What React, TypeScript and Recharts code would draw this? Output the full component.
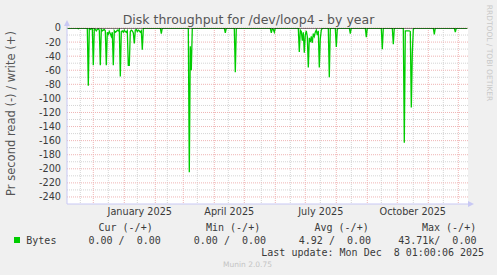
import { LineChart, Line, XAxis, YAxis, CartesianGrid } from "recharts";

// day 0 = 1 Dec 2024, one point per day (yearly munin view)
const DAYS = [
  -26, -16, -15, -14,
  -6, -5, -4, -3, -2, -1, 0, 1, 2, 3, 4, 5, 6, 7, 8, 9, 10, 11, 12, 13, 14, 15, 16, 17, 18, 19, 20,
  21, 22, 23, 24, 25, 26, 27, 28, 29, 30, 31, 32, 33, 34, 35, 36, 37, 38, 39, 40, 41, 42, 43, 44,
  45, 46, 47, 48, 49, 50, 51,
  67, 68, 69,
  95, 96, 97, 98, 99,
  131, 132, 133,
  141, 142, 143,
  177, 178, 179, 180, 181, 182,
  205, 206, 207, 208, 209, 210, 211, 212, 213, 214, 215, 216, 217, 218, 219, 220, 221, 222, 223,
  224, 225, 226, 227, 228, 229,
  235, 236, 237,
  242, 243, 244, 245,
  256, 257, 258,
  272, 273, 274,
  288, 289, 290,
  299, 300, 301,
  310, 311, 312, 313, 314, 315, 316, 317, 318, 319, 320, 321,
  340, 341, 342,
  361, 362, 363,
  374,
];

const READ = [
  0, 0, -1, 0,
  0, -82, 0, -2, -1, -1, -53, -1, -2, -4, -2, -1, -3, -53, -2, -4, -3, -2, -4, -53, -6, -9, -5, -8, -12, -6, -53,
  -4, -6, -5, -3, -4, -2, -69, -5, -4, -6, -3, -5, -6, -4, -53, -53, -5, -3, -4, -7, -22, -3, -2, -5,
  -3, -4, -6, -4, -31, -1, 0,
  0, -8, 0,
  0, -205, -26, -60, 0,
  0, -7, 0,
  0, -63, 0,
  0, -7, -1, -2, -6, 0,
  0, -34, -3, -5, -18, -6, -35, -10, -4, -12, -56, -14, -20, -12, -21, -8, -12, -6, -3,
  -10, -4, -56, -15, -3, 0,
  0, -70, 0,
  0, -27, -2, 0,
  0, -8, 0,
  0, -13, 0,
  0, -30, 0,
  0, -23, 0,
  0, -163, -4, -4, -4, -4, -4, -5, -113, -36, -2, 0,
  0, -9, 0,
  0, -6, 0,
  0,
];

// write side is flat zero all year (drawn as the black rule at 0)
const WRITE_DAYS = [-26, 374];
const WRITE = [0, 0];

const MONTH_STARTS = [0, 31, 62, 90, 121, 151, 182, 212, 243, 274, 304, 335, 365];
const MID_MONTH = [-13, 15, 44, 74, 104, 135, 168, 197, 227, 258, 288, 320, 350];
const LABEL_DAYS = [46.5, 136, 227.5, 319.5];
const LABELS = ["January 2025", "April 2025", "July 2025", "October 2025"];
const Y_TICKS = [0, -20, -40, -60, -80, -100, -120, -140, -160, -180, -200, -220, -240];
const Y_MINOR = [-10, -30, -50, -70, -90, -110, -130, -150, -170, -190, -210, -230];

const LEGEND_HEAD = ["Cur (-/+)", "Min (-/+)", "Avg (-/+)", "Max (-/+)"];
const LEGEND_VALUES = ["0.00 /  0.00", "0.00 /  0.00", "4.92 /  0.00", "43.71k/  0.00"];

const data = DAYS.map((d, i) => {
  const w = WRITE_DAYS.indexOf(d);
  return { day: d, read: READ[i], write: w >= 0 ? WRITE[w] : null };
});

const AXIS = "#c8c8f4";
const TEXT = "#3a3a3a";
const mono = "'DejaVu Sans Mono', monospace";
const sans = "'DejaVu Sans', sans-serif";

export default function App() {
  const headX = [98.5, 206, 314.5, 422];
  const valX = [88.5, 193.8, 298.8, 398.2];
  return (
    <div style={{ position: "absolute", left: 0, top: 0, width: 497, height: 275, background: "#f0f0f0" }}>
      <LineChart width={497} height={275} data={data} margin={{ top: 28, right: 29, bottom: 51, left: 27 }}>
        <CartesianGrid
          horizontalValues={Y_MINOR}
          verticalValues={MID_MONTH}
          stroke="#d4d4d4"
          strokeDasharray="1 1"
          fill="#ffffff"
          fillOpacity={1}
        />
        <CartesianGrid
          horizontalValues={Y_TICKS}
          verticalValues={MONTH_STARTS}
          stroke="#efb4b4"
          strokeDasharray="1 1"
        />
        <XAxis
          type="number"
          dataKey="day"
          domain={[-26.3, 374.7]}
          allowDataOverflow
          ticks={LABEL_DAYS}
          interval={0}
          tickFormatter={(v: number) => LABELS[LABEL_DAYS.indexOf(v)] ?? ""}
          tickLine={false}
          tickSize={0}
          tickMargin={4}
          height={20}
          axisLine={{ stroke: AXIS }}
          tick={{ fill: TEXT, fontSize: 9.7, fontFamily: sans }}
        />
        <YAxis
          type="number"
          domain={[-250, 0]}
          allowDataOverflow
          ticks={Y_TICKS}
          interval={0}
          width={40}
          tickLine={false}
          tickSize={0}
          tickMargin={6}
          axisLine={{ stroke: AXIS }}
          tick={{ fill: TEXT, fontSize: 9.7, fontFamily: sans }}
        />
        <Line
          type="linear"
          dataKey="read"
          stroke="#00cc00"
          strokeWidth={1.3}
          dot={false}
          isAnimationActive={false}
        />
        <Line
          type="linear"
          dataKey="write"
          stroke="#000000"
          strokeWidth={1.2}
          dot={false}
          connectNulls
          isAnimationActive={false}
        />
      </LineChart>
      <svg
        width={497}
        height={275}
        style={{ position: "absolute", left: 0, top: 0, pointerEvents: "none" }}
      >
        <text x={248.5} y={23.5} textAnchor="middle" fontSize={12.5} fontFamily={sans} fill="#555">
          Disk throughput for /dev/loop4 - by year
        </text>
        <text
          x={11}
          y={113.5}
          transform="rotate(-90 11 113.5)"
          textAnchor="middle"
          dominantBaseline="central"
          fontSize={11.5}
          fontFamily={sans}
          fill="#555"
        >
          Pr second read (-) / write (+)
        </text>
        <text
          x={489}
          y={53}
          transform="rotate(90 489 53)"
          textAnchor="middle"
          dominantBaseline="central"
          fontSize={7.5}
          fontFamily={sans}
          fill="#c8c8c8"
        >
          RRDTOOL / TOBI OETIKER
        </text>
        <line x1={67} y1={28} x2={67} y2={23} stroke={AXIS} />
        <polygon points="64,26 70,26 67,20" fill={AXIS} />
        <polygon points="468,201 468,207 474,204" fill={AXIS} />
        <rect x={14} y={237} width={6} height={6} fill="#00cc00" />
        <text x={26.3} y={243.5} fontSize={10} fontFamily={mono} fill={TEXT}>
          Bytes
        </text>
        {LEGEND_HEAD.map((t, i) => (
          <text key={t} x={headX[i]} y={231} fontSize={10} fontFamily={mono} fill={TEXT} style={{ whiteSpace: "pre" }}>
            {t}
          </text>
        ))}
        {LEGEND_VALUES.map((t, i) => (
          <text key={i} x={valX[i]} y={243.5} fontSize={10} fontFamily={mono} fill={TEXT} style={{ whiteSpace: "pre" }}>
            {t}
          </text>
        ))}
        <text x={261.3} y={255.5} fontSize={10} fontFamily={mono} fill={TEXT} style={{ whiteSpace: "pre" }}>
          Last update: Mon Dec  8 01:00:06 2025
        </text>
        <text x={247.5} y={267} textAnchor="middle" fontSize={7.5} fontFamily={sans} fill="#c4c4c4">
          Munin 2.0.75
        </text>
      </svg>
    </div>
  );
}
